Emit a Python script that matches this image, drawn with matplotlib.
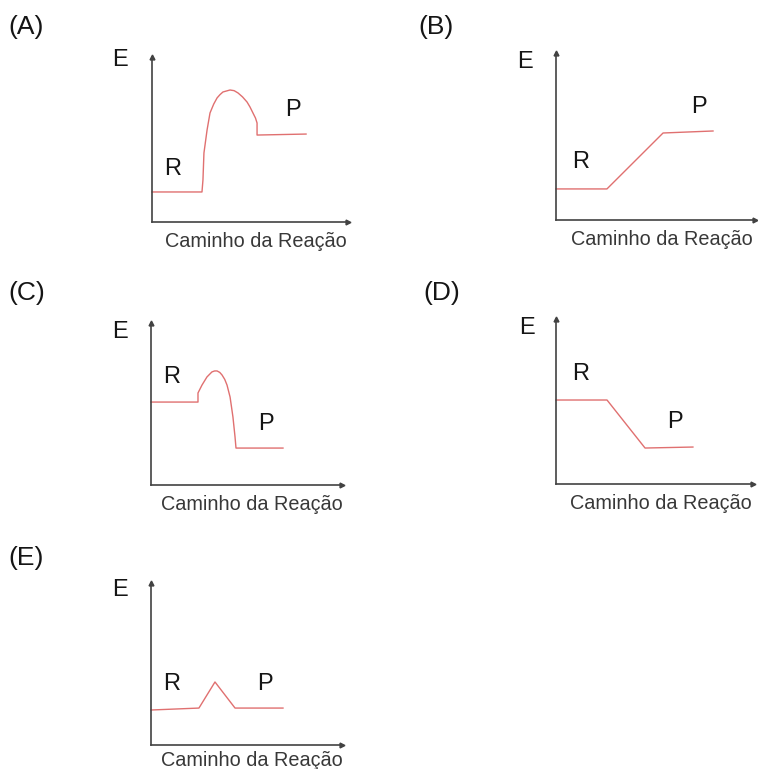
import matplotlib
matplotlib.use("Agg")
import matplotlib.pyplot as plt

plt.rcParams['font.family'] = ['Liberation Sans', 'DejaVu Sans']

# ---- data (reaction coordinate, energy), each panel on a 0-10 scale ----
a_x = [0, 2.55, 2.60, 2.65, 2.81, 2.96, 3.15, 3.32, 3.47, 3.62, 3.98, 4.19, 4.39, 4.62, 4.85, 5.00, 5.15, 5.28, 5.36, 5.36, 7.86]
a_y = [1.82, 1.82, 2.55, 4.18, 5.58, 6.61, 7.15, 7.52, 7.72, 7.88, 8.00, 7.96, 7.82, 7.58, 7.27, 6.97, 6.61, 6.30, 6.00, 5.27, 5.33]

b_x = [0, 2.56, 5.38, 7.89]
b_y = [1.86, 1.86, 5.21, 5.33]

c_x = [0, 2.46, 2.46, 2.67, 2.93, 3.19, 3.33, 3.46, 3.60, 3.72, 3.86, 3.98, 4.14, 4.29, 4.40, 4.45, 6.91]
c_y = [5.12, 5.12, 5.68, 6.17, 6.67, 6.98, 7.04, 7.04, 6.95, 6.79, 6.52, 6.17, 5.43, 4.20, 2.96, 2.28, 2.28]

d_x = [0, 2.59, 4.52, 6.95]
d_y = [5.09, 5.09, 2.18, 2.24]

e_x = [0, 2.51, 3.35, 4.40, 6.91]
e_y = [2.16, 2.28, 3.89, 2.28, 2.28]

panel_letters = ["(A)", "(B)", "(C)", "(D)", "(E)"]
axis_y_label = "E"
axis_x_label = "Caminho da Reação"
reagent_label = "R"
product_label = "P"

# label positions in data units: (E), (R), (P)
label_pos = [
    ((-1.63, 9.82), (1.07, 3.21), (7.19, 6.79)),
    ((-1.56, 9.46), (1.26, 3.47), (7.19, 6.77)),
    ((-1.62, 9.44), (1.10, 6.67), (6.02, 3.77)),
    ((-1.47, 9.45), (1.27, 6.67), (6.04, 3.76)),
    ((-1.62, 9.57), (1.10, 3.77), (5.97, 3.77)),
]

# ---- layout (pixels) ----
W, H = 758, 769
boxes = [  # left, right, top, bottom
    (152, 348, 57, 222),
    (556, 755, 53, 220),
    (151, 342, 323, 485),
    (556, 753, 319, 484),
    (151, 342, 583, 745),
]
letter_pos = [(26, 27), (436, 27), (27, 293), (442, 293), (26, 558)]
caption_offset = [-0.06, -0.06, -0.06, -0.06, -0.035]

AX_COL = '#424242'
CURVE_COL = '#e07070'
TXT_COL = '#151515'

fig = plt.figure(figsize=(W / 100, H / 100), dpi=100)
fig.patch.set_facecolor('white')

curves = [(a_x, a_y), (b_x, b_y), (c_x, c_y), (d_x, d_y), (e_x, e_y)]

for i, ((l, r, t, b), (xs, ys)) in enumerate(zip(boxes, curves)):
    ax = fig.add_axes([l / W, 1 - b / H, (r - l) / W, (b - t) / H])
    ax.set_xlim(0, 10)
    ax.set_ylim(0, 10)
    ax.patch.set_alpha(0)
    for s in ('top', 'right'):
        ax.spines[s].set_visible(False)
    for s in ('left', 'bottom'):
        ax.spines[s].set_color(AX_COL)
        ax.spines[s].set_linewidth(1.2)
    ax.set_xticks([])
    ax.set_yticks([])
    # arrow heads
    ax.plot(1, 0, '>', color=AX_COL, markersize=3.5, transform=ax.get_yaxis_transform(), clip_on=False)
    ax.plot(0, 1, '^', color=AX_COL, markersize=3.5, transform=ax.get_xaxis_transform(), clip_on=False)
    # curve
    ax.plot(xs, ys, color=CURVE_COL, linewidth=1.0, solid_joinstyle='round', clip_on=False)
    (ex, ey), (rx, ry), (px, py) = label_pos[i]
    ax.text(ex, ey, axis_y_label, fontsize=17, color=TXT_COL, ha='center', va='center', clip_on=False)
    ax.text(rx, ry, reagent_label, fontsize=17, color=TXT_COL, ha='center', va='center')
    ax.text(px, py, product_label, fontsize=17, color=TXT_COL, ha='center', va='center')
    ax.text(0.53, caption_offset[i], axis_x_label, fontsize=14.3, color='#383838', ha='center', va='top',
            transform=ax.transAxes, clip_on=False)
    lx, ly = letter_pos[i]
    fig.text(lx / W, 1 - ly / H, panel_letters[i], fontsize=19, color=TXT_COL, ha='center', va='center')

fig.savefig('out.png', dpi=100, facecolor='white')
